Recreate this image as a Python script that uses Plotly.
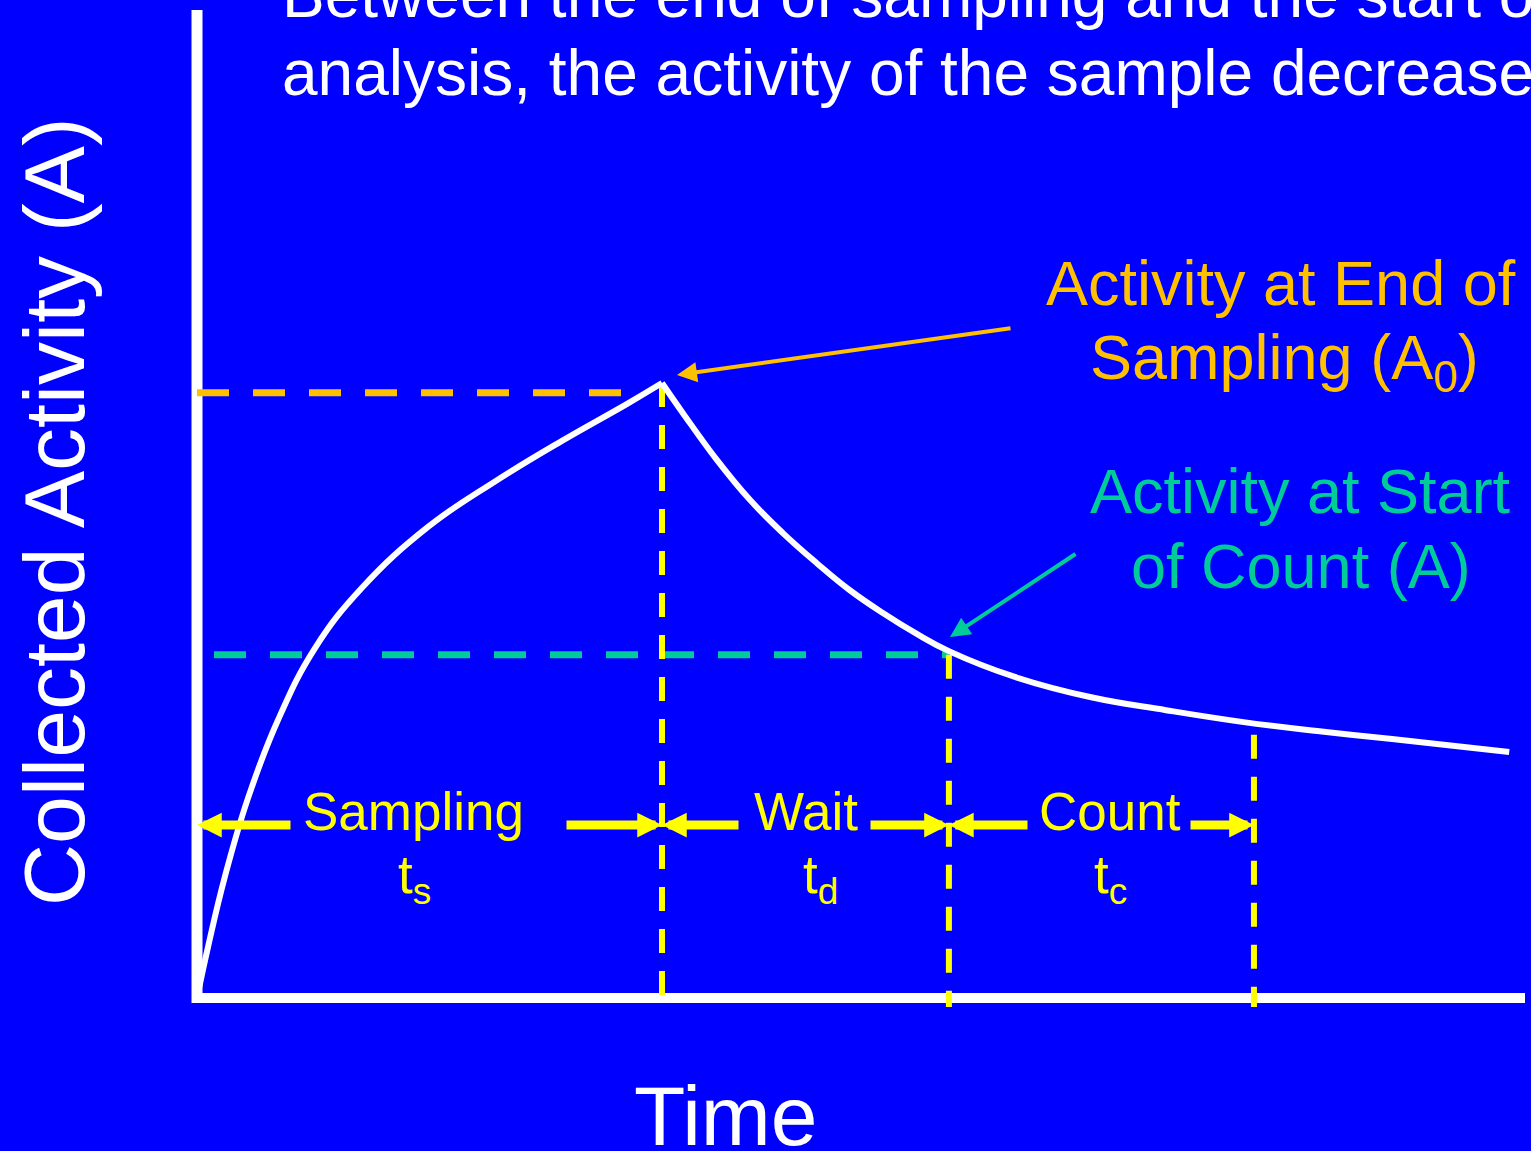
"""
Collected activity during sampling, wait and count periods
"""

import plotly.graph_objects as go

# ---- data ----------------------------------------------------------------
# build-up while sampling (time units, activity relative to A0 peak)
rise_t = [0.0, 0.237, 0.602, 1.097, 1.742, 2.538, 3.548, 4.968, 6.409, 7.849, 9.269, 10.0]
rise_a = [0.0, 0.083, 0.198, 0.325, 0.452, 0.569, 0.667, 0.766, 0.840, 0.906, 0.967, 1.0]

# decay after sampling stops
decay_t = [10.0, 10.45, 11.18, 11.89, 12.60, 13.33, 14.04, 14.75, 15.48, 16.17,
           17.59, 19.23, 20.84, 22.47, 24.09, 25.70, 28.22]
decay_a = [1.0, 0.951, 0.875, 0.810, 0.756, 0.707, 0.663, 0.626, 0.592, 0.564,
           0.522, 0.489, 0.468, 0.449, 0.434, 0.421, 0.400]

phase_names = ["Sampling", "Wait", "Count"]
phase_subs = ["s", "d", "c"]
phase_edges = [0.0, 10.0, 16.17, 22.73]   # start of sampling ... end of count

a0_level = 0.984        # activity at end of sampling (guide)
a_level = 0.558         # activity at start of count (guide)
count_end_level = 0.428 # where the end-of-count guide starts

title_lines = ["Between the end of sampling and the start of",
               "analysis, the activity of the sample decreases."]
a0_lines = ["Activity at End of", "Sampling (A<sub>0</sub>)"]
a_lines = ["Activity at Start", "of Count (A)"]

# ---- colours / layout helpers --------------------------------------------
BLUE = "#0000FF"
WHITE = "#FFFFFF"
YELLOW = "#FFFF00"
ORANGE = "#FFC000"
GREEN = "#00CC99"
FONT = "Arial, Liberation Sans, sans-serif"

W, H = 1531, 1151
X0_PX, Y0_PX = 197, 998      # pixel where the two axes meet
PX_PER_T, PX_PER_A = 46.5, 615


def x_at(px):
    return (px - X0_PX) / PX_PER_T


def y_at(py):
    return (Y0_PX - py) / PX_PER_A


def xp(px):
    return px / W


def yp(py):
    return 1 - py / H


fig = go.Figure()

# axes drawn as thick white lines
shapes = [
    dict(type="line", xref="x", yref="y", x0=0, x1=0, y0=y_at(1003), y1=y_at(10),
         line=dict(color=WHITE, width=11)),
    dict(type="line", xref="x", yref="y", x0=x_at(192), x1=x_at(1525), y0=0, y1=0,
         line=dict(color=WHITE, width=10)),
    # guide lines
    dict(type="line", xref="x", yref="y", x0=0, x1=x_at(640), y0=a0_level, y1=a0_level,
         line=dict(color=ORANGE, width=7, dash="32px,24px")),
    dict(type="line", xref="x", yref="y", x0=x_at(214), x1=phase_edges[2], y0=a_level, y1=a_level,
         line=dict(color=GREEN, width=7, dash="32px,24px")),
    dict(type="line", xref="x", yref="y", x0=phase_edges[1], x1=phase_edges[1], y0=rise_a[-1], y1=y_at(1007),
         line=dict(color=YELLOW, width=6, dash="24px,18px")),
    dict(type="line", xref="x", yref="y", x0=phase_edges[2], x1=phase_edges[2], y0=a_level, y1=y_at(1007),
         line=dict(color=YELLOW, width=6, dash="24px,18px")),
    dict(type="line", xref="x", yref="y", x0=phase_edges[3], x1=phase_edges[3], y0=count_end_level, y1=y_at(1007),
         line=dict(color=YELLOW, width=6, dash="24px,18px")),
]
for s in shapes:
    s["layer"] = "below"

for tt, aa in ((rise_t, rise_a), (decay_t, decay_a)):
    fig.add_trace(go.Scatter(x=tt, y=aa, mode="lines",
                             line=dict(color=WHITE, width=6, shape="spline", smoothing=1.2),
                             hoverinfo="skip"))

annotations = []

# phase arrows and labels
ARROW_Y = y_at(825)
tails = [(292, 565), (740, 869), (1029, 1189)]
label_cx = [413, 806, 1110]
sub_cx = [414, 820, 1110]
for i, name in enumerate(phase_names):
    left_tail, right_tail = tails[i]
    for tip, tail in ((phase_edges[i], x_at(left_tail)), (phase_edges[i + 1], x_at(right_tail))):
        annotations.append(dict(x=tip, y=ARROW_Y, ax=tail, ay=ARROW_Y,
                                xref="x", yref="y", axref="x", ayref="y",
                                text="", showarrow=True, arrowhead=2, arrowsize=0.55,
                                arrowwidth=9, arrowcolor=YELLOW))
    annotations.append(dict(x=xp(label_cx[i]), y=yp(811), xref="paper", yref="paper",
                            text=name, showarrow=False, xanchor="center", yanchor="middle",
                            font=dict(family=FONT, size=53, color=YELLOW)))
    annotations.append(dict(x=xp(sub_cx[i]), y=yp(878), xref="paper", yref="paper",
                            text="t<sub>%s</sub>" % phase_subs[i], showarrow=False,
                            xanchor="center", yanchor="middle",
                            font=dict(family=FONT, size=53, color=YELLOW)))

# pointer arrows
annotations.append(dict(x=x_at(677), y=y_at(375), ax=x_at(1012), ay=y_at(328),
                        xref="x", yref="y", axref="x", ayref="y", text="",
                        showarrow=True, arrowhead=2, arrowsize=1, arrowwidth=4,
                        arrowcolor=ORANGE))
annotations.append(dict(x=x_at(950), y=y_at(637), ax=x_at(1077), ay=y_at(553),
                        xref="x", yref="y", axref="x", ayref="y", text="",
                        showarrow=True, arrowhead=2, arrowsize=1, arrowwidth=4,
                        arrowcolor=GREEN))

# callout texts
for txt, cx, cy in ((a0_lines[0], 1281, 283), (a0_lines[1], 1284, 361)):
    annotations.append(dict(x=xp(cx), y=yp(cy), xref="paper", yref="paper", text=txt,
                            showarrow=False, xanchor="center", yanchor="middle",
                            font=dict(family=FONT, size=63, color=ORANGE)))
for txt, cx, cy in ((a_lines[0], 1300, 491), (a_lines[1], 1301, 566)):
    annotations.append(dict(x=xp(cx), y=yp(cy), xref="paper", yref="paper", text=txt,
                            showarrow=False, xanchor="center", yanchor="middle",
                            font=dict(family=FONT, size=63, color=GREEN)))

# heading (cut off at top/right as in the slide)
for txt, cy in ((title_lines[0], -5), (title_lines[1], 73)):
    annotations.append(dict(x=xp(280), y=yp(cy), xref="paper", yref="paper", text=txt,
                            showarrow=False, xanchor="left", yanchor="middle",
                            font=dict(family=FONT, size=64, color=WHITE)))

# axis titles
annotations.append(dict(x=xp(54), y=yp(512), xref="paper", yref="paper",
                        text="Collected Activity (A)", textangle=-90, showarrow=False,
                        xanchor="center", yanchor="middle",
                        font=dict(family=FONT, size=86, color=WHITE)))
annotations.append(dict(x=xp(726), y=yp(1116), xref="paper", yref="paper",
                        text="Time", showarrow=False, xanchor="center", yanchor="middle",
                        font=dict(family=FONT, size=84, color=WHITE)))

fig.update_layout(
    width=W, height=H,
    margin=dict(l=0, r=0, t=0, b=0),
    paper_bgcolor=BLUE, plot_bgcolor=BLUE,
    showlegend=False,
    xaxis=dict(range=[x_at(0), x_at(W)], visible=False, fixedrange=True),
    yaxis=dict(range=[y_at(H), y_at(0)], visible=False, fixedrange=True),
    shapes=shapes,
    annotations=annotations,
)

fig.write_html("out.html", config={"displayModeBar": False},
               post_script="document.body.style.margin='0';document.body.style.overflow='hidden';")
